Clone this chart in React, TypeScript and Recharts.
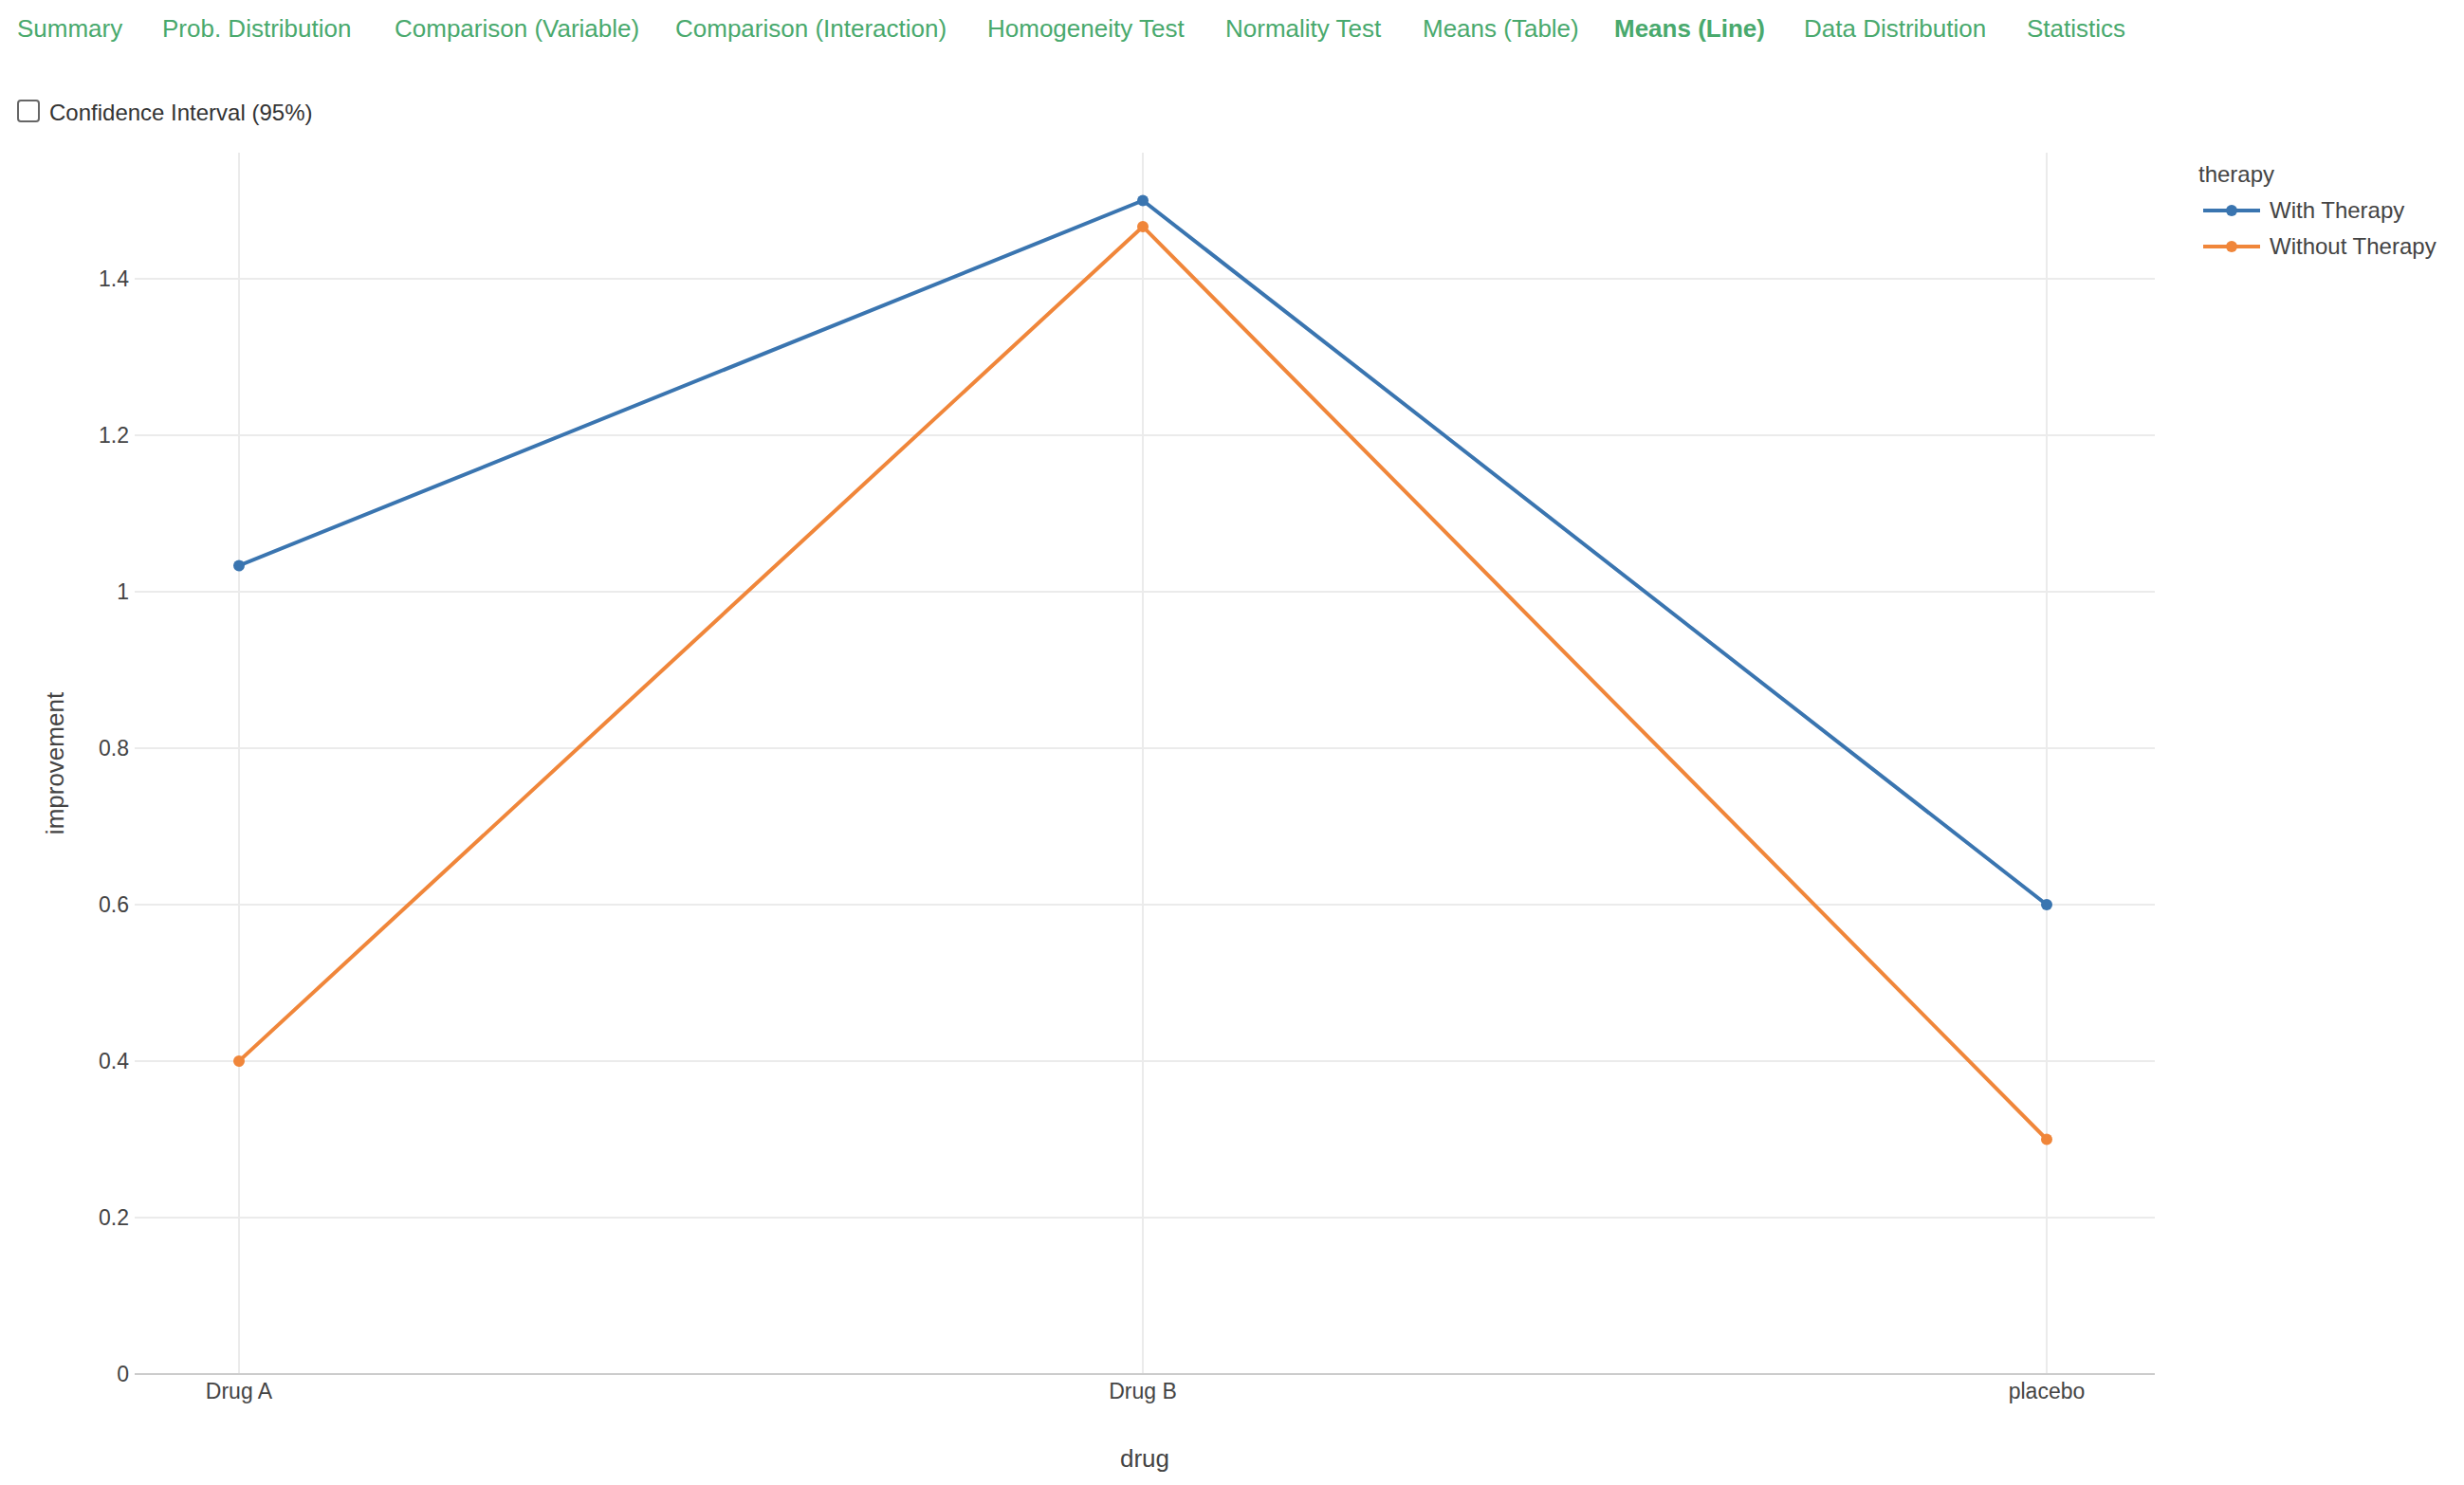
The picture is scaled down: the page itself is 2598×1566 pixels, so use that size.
import React from "react";
import {
  LineChart,
  Line,
  XAxis,
  YAxis,
  CartesianGrid,
  Legend,
} from "recharts";

const drugs = ["Drug A", "Drug B", "placebo"];
const withTherapy = [1.0333, 1.5, 0.6];
const withoutTherapy = [0.4, 1.4667, 0.3];
const yTicks = [0, 0.2, 0.4, 0.6, 0.8, 1, 1.2, 1.4];

const tabs = [
  "Summary",
  "Prob. Distribution",
  "Comparison (Variable)",
  "Comparison (Interaction)",
  "Homogeneity Test",
  "Normality Test",
  "Means (Table)",
  "Means (Line)",
  "Data Distribution",
  "Statistics",
];
const activeTab = "Means (Line)";
const tabX = [18, 171, 416, 712, 1041, 1292, 1500, 1702, 1902, 2137];

const FONT = '"Liberation Sans", Arial, Helvetica, sans-serif';
const BLUE = "#3a75b0";
const ORANGE = "#f0863a";
const GREEN = "#49a96d";
const TEXT = "#444";

const data = drugs.map((drug, i) => ({
  drug,
  with: withTherapy[i],
  without: withoutTherapy[i],
}));

const series = [
  { key: "with", name: "With Therapy", color: BLUE },
  { key: "without", name: "Without Therapy", color: ORANGE },
];

function YTitle(props: any) {
  const { viewBox } = props;
  const cx = viewBox.x + 58;
  const cy = viewBox.y + viewBox.height / 2;
  return (
    <text
      x={cx}
      y={cy}
      transform={`rotate(-90 ${cx} ${cy})`}
      textAnchor="middle"
      dominantBaseline="central"
      fill={TEXT}
      fontSize={26}
    >
      improvement
    </text>
  );
}

function XTitle(props: any) {
  const { viewBox } = props;
  return (
    <text
      x={viewBox.x + viewBox.width / 2}
      y={viewBox.y + 98}
      textAnchor="middle"
      fill={TEXT}
      fontSize={26}
    >
      drug
    </text>
  );
}

function TherapyLegend() {
  return (
    <div style={{ fontFamily: FONT, color: TEXT }}>
      <div style={{ fontSize: 24, lineHeight: "30px", marginBottom: 4 }}>therapy</div>
      {series.map((s) => (
        <div
          key={s.key}
          style={{ display: "flex", alignItems: "center", height: 38 }}
        >
          <svg width={70} height={20} style={{ marginLeft: 5 }}>
            <line x1={0} y1={10} x2={60} y2={10} stroke={s.color} strokeWidth={4} />
            <circle cx={30} cy={10} r={6} fill={s.color} />
          </svg>
          <span style={{ fontSize: 24 }}>{s.name}</span>
        </div>
      ))}
    </div>
  );
}

export default function App() {
  return (
    <div
      style={{
        position: "absolute",
        left: 0,
        top: 0,
        width: 2598,
        height: 1566,
        background: "#fff",
        fontFamily: FONT,
      }}
    >
      {tabs.map((t, i) => (
        <div
          key={t}
          style={{
            position: "absolute",
            left: tabX[i],
            top: 14,
            fontSize: 26,
            lineHeight: "32px",
            color: GREEN,
            fontWeight: t === activeTab ? 700 : 400,
            whiteSpace: "nowrap",
          }}
        >
          {t}
        </div>
      ))}

      <div
        style={{
          position: "absolute",
          left: 18,
          top: 105,
          width: 20,
          height: 20,
          border: "2px solid #666",
          borderRadius: 4,
        }}
      />
      <div
        style={{
          position: "absolute",
          left: 52,
          top: 104,
          fontSize: 24,
          lineHeight: "30px",
          color: "#333",
          whiteSpace: "nowrap",
        }}
      >
        Confidence Interval (95%)
      </div>

      <div style={{ position: "absolute", left: 0, top: 0 }}>
        <LineChart
          width={2598}
          height={1566}
          data={data}
          margin={{ top: 161, right: 326, left: 0, bottom: 0 }}
        >
          <CartesianGrid
            stroke="#ebebeb"
            strokeWidth={2}
            horizontalValues={yTicks}
            verticalValues={drugs}
          />
          <XAxis
            dataKey="drug"
            height={117}
            padding={{ left: 110, right: 114 }}
            axisLine={{ stroke: "#cccccc", strokeWidth: 2 }}
            tickLine={false}
            tickSize={0}
            tickMargin={10}
            tick={{ fill: TEXT, fontSize: 23 }}
            label={<XTitle />}
          />
          <YAxis
            width={142}
            domain={[0, 1.5612]}
            ticks={yTicks}
            allowDataOverflow
            axisLine={false}
            tickLine={false}
            tickSize={0}
            tickMargin={6}
            tick={{ fill: TEXT, fontSize: 23 }}
            label={<YTitle />}
          />
          <Legend
            layout="vertical"
            align="center"
            verticalAlign="middle"
            content={<TherapyLegend />}
            wrapperStyle={{ left: 2318, top: 169, width: 280 }}
          />
          {series.map((s) => (
            <Line
              key={s.key}
              type="linear"
              dataKey={s.key}
              name={s.name}
              stroke={s.color}
              strokeWidth={4}
              dot={{ r: 6, fill: s.color, stroke: s.color, strokeWidth: 0 }}
              activeDot={false}
              isAnimationActive={false}
            />
          ))}
        </LineChart>
      </div>
    </div>
  );
}
